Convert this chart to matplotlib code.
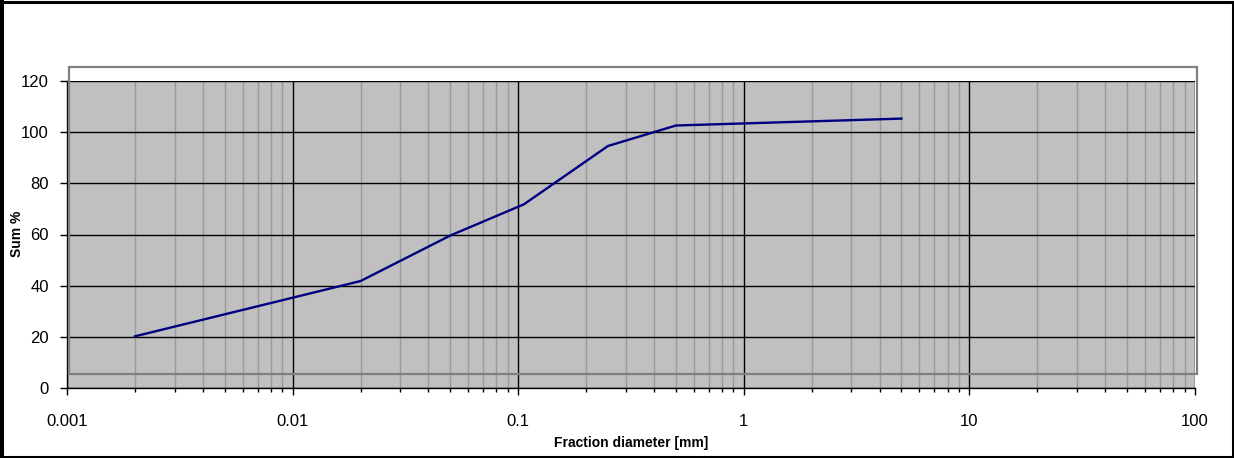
import matplotlib
matplotlib.use("Agg")
import matplotlib.pyplot as plt
import matplotlib.patches as mpatches
from matplotlib.ticker import LogLocator, FixedLocator, FixedFormatter, NullFormatter

plt.rcParams['font.family'] = ['Liberation Sans', 'DejaVu Sans']

# Grain size distribution
diameter_mm = [0.002, 0.02, 0.05, 0.106, 0.25, 0.5, 5.0]
sum_percent = [20.2, 41.8, 59.6, 71.8, 94.6, 102.6, 105.3]

x_ticks = [0.001, 0.01, 0.1, 1, 10, 100]
x_tick_labels = ["0.001", "0.01", "0.1", "1", "10", "100"]
y_ticks = [0, 20, 40, 60, 80, 100, 120]

W, H = 1234, 458
fig = plt.figure(figsize=(W / 100, H / 100), dpi=100)
fig.patch.set_facecolor("white")

ax_left, ax_right, ax_top, ax_bottom = 67, 1195, 81, 388
ax = fig.add_axes([ax_left / W, 1 - ax_bottom / H,
                   (ax_right - ax_left) / W, (ax_bottom - ax_top) / H])
ax.set_facecolor("#C0C0C0")

ax.plot(diameter_mm, sum_percent, color="#000080", lw=1.7, zorder=5,
        solid_joinstyle="miter")

ax.set_xscale("log")
ax.set_xlim(0.001, 100)
ax.set_ylim(0, 120)

ax.xaxis.set_major_locator(FixedLocator(x_ticks))
ax.xaxis.set_major_formatter(FixedFormatter(x_tick_labels))
ax.xaxis.set_minor_locator(LogLocator(base=10, subs=range(2, 10), numticks=50))
ax.xaxis.set_minor_formatter(NullFormatter())
ax.set_yticks(y_ticks)

ax.grid(which="major", color="black", lw=1.0, zorder=1)
ax.grid(which="minor", axis="x", color="#999999", lw=1.0, zorder=0.5)
ax.set_axisbelow(True)

for side in ("top", "right"):
    ax.spines[side].set_visible(False)
for side in ("left", "bottom"):
    ax.spines[side].set_color("black")
    ax.spines[side].set_linewidth(1.0)

ax.tick_params(axis="both", which="major", direction="out", length=5,
               width=1, labelsize=12, color="black")
ax.tick_params(axis="x", which="major", pad=14)
ax.tick_params(axis="y", which="major", pad=8)
ax.tick_params(axis="x", which="minor", direction="out", length=3, width=1,
               color="black")

# Plot-area frame
frame = mpatches.Rectangle((69 / W, 1 - 374 / H), 1128 / W, 307 / H,
                           transform=fig.transFigure, fill=False,
                           edgecolor="#808080", lw=1.6, zorder=3)
fig.add_artist(frame)

fig.text(631 / W, 1 - 443 / H, "Fraction diameter [mm]", ha="center",
         va="center", fontsize=10, fontweight="bold")
fig.text(17 / W, 1 - 234 / H, "Sum %", ha="center", va="center",
         rotation=90, fontsize=10, fontweight="bold")

# Chart border
border = mpatches.Rectangle((1.5 / W, 1.5 / H), (W - 3) / W, (H - 3) / H,
                            transform=fig.transFigure, fill=False,
                            edgecolor="black", lw=2.2)
fig.add_artist(border)
fig.add_artist(mpatches.Rectangle((0, 0), 4 / W, 1, transform=fig.transFigure,
                                  facecolor="black", edgecolor="none"))

fig.savefig("out.png", dpi=100, facecolor="white")
